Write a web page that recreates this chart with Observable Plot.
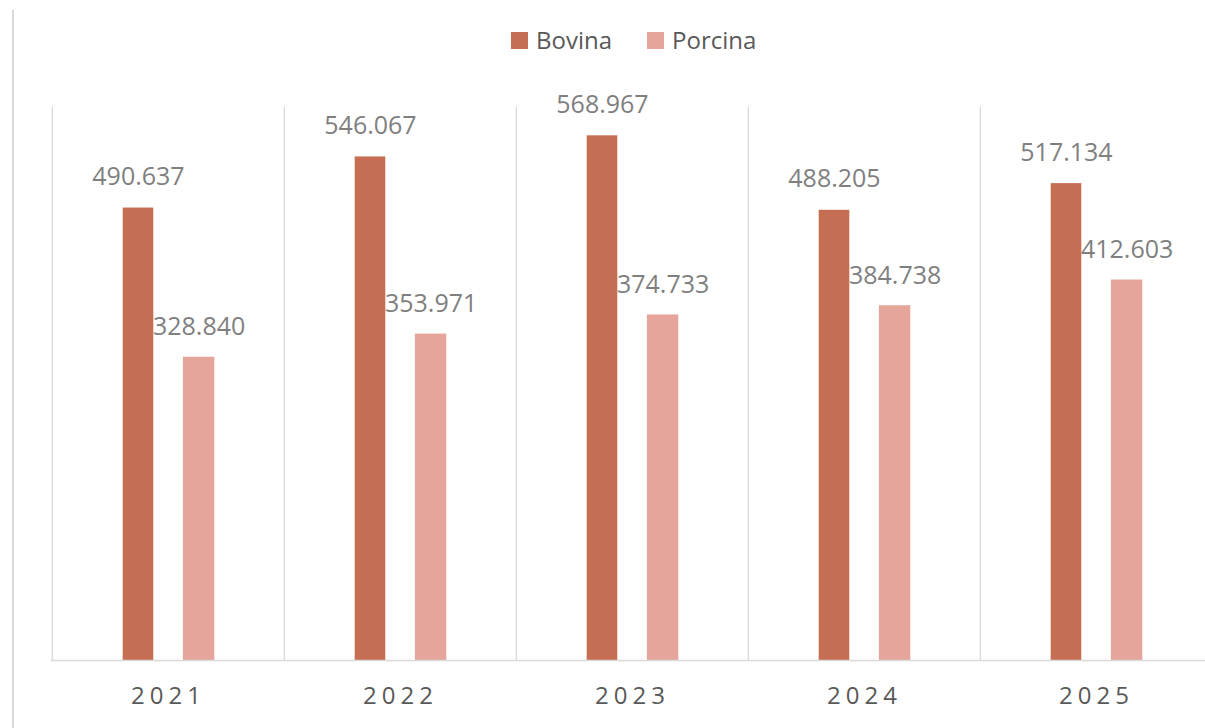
<!DOCTYPE html>
<html>
<head>
<meta charset="utf-8">
<script src="https://cdn.jsdelivr.net/npm/d3@7"></script>
<script src="https://cdn.jsdelivr.net/npm/@observablehq/plot@0.6"></script>
<style>
  html, body { margin: 0; padding: 0; background: #fff; }
  #wrap { position: relative; width: 1205px; height: 728px; overflow: hidden; font-family: "Open Sans", sans-serif; }
  #border { position: absolute; left: 12px; top: 10px; width: 2px; height: 718px; background: #d9d9d9; }
  #chart { position: absolute; left: 0; top: 0; }
  .leg { position: absolute; top: 28px; height: 24px; line-height: 24px; font-size: 24px; color: #595959; white-space: nowrap; }
  .sw { position: absolute; top: 32px; width: 17px; height: 17px; }
  #chart svg g[aria-label="x-axis tick label"] text { letter-spacing: 5px; }
</style>
</head>
<body>
<div id="wrap">
  <div id="border"></div>
  <div id="chart"></div>
</div>
<script>
const years = ["2021", "2022", "2023", "2024", "2025"];
const bovina = [490.637, 546.067, 568.967, 488.205, 517.134];
const porcina = [328.840, 353.971, 374.733, 384.738, 412.603];
const seriesNames = ["Bovina", "Porcina"];
const seriesColors = ["#c66e53", "#e6a59b"];

const bov = years.map((y, i) => ({year: y, value: bovina[i]}));
const por = years.map((y, i) => ({year: y, value: porcina[i]}));
const fmt = d3.format(".3f");

const plot = Plot.plot({
  width: 1205,
  height: 728,
  marginLeft: 50.7,
  marginRight: 0,
  marginTop: 106.7,
  marginBottom: 68,
  style: {fontFamily: "Open Sans", background: "transparent", overflow: "visible"},
  x: {type: "band", domain: years, range: [50.7, 1212.7], padding: 0},
  y: {domain: [0, 600], range: [660, 106.7], axis: null},
  marks: [
    Plot.ruleX(years, {x: d => d, dx: -116.2, y1: 0, y2: 600, stroke: "#d9d9d9", strokeWidth: 1.3}),
    Plot.barY(bov, {x: "year", y: "value", fill: seriesColors[0], insetLeft: 70.7, insetRight: 130.7}),
    Plot.barY(por, {x: "year", y: "value", fill: seriesColors[1], insetLeft: 130.9, insetRight: 69.7}),
    Plot.ruleY([0], {stroke: "#d9d9d9", strokeWidth: 1.5}),
    Plot.text(bov, {x: "year", y: "value", text: d => fmt(d.value), dx: -30, dy: -23, lineAnchor: "bottom", fontSize: 25, fill: "#7f7f7f"}),
    Plot.text(por, {x: "year", y: "value", text: d => fmt(d.value), dx: 30.6, dy: -22, lineAnchor: "bottom", fontSize: 25, fill: "#7f7f7f"}),
    Plot.axisX({tickSize: 0, tickPadding: 26, fontSize: 24, color: "#595959", label: null})
  ]
});
document.getElementById("chart").appendChild(plot);

// legend
const wrap = document.getElementById("wrap");
const legPos = [{sw: 511, tx: 536}, {sw: 647, tx: 672}];
seriesNames.forEach((name, i) => {
  const sw = document.createElement("div");
  sw.className = "sw";
  sw.style.left = legPos[i].sw + "px";
  sw.style.background = seriesColors[i];
  wrap.appendChild(sw);
  const t = document.createElement("div");
  t.className = "leg";
  t.style.left = legPos[i].tx + "px";
  t.textContent = name;
  wrap.appendChild(t);
});
</script>
</body>
</html>
